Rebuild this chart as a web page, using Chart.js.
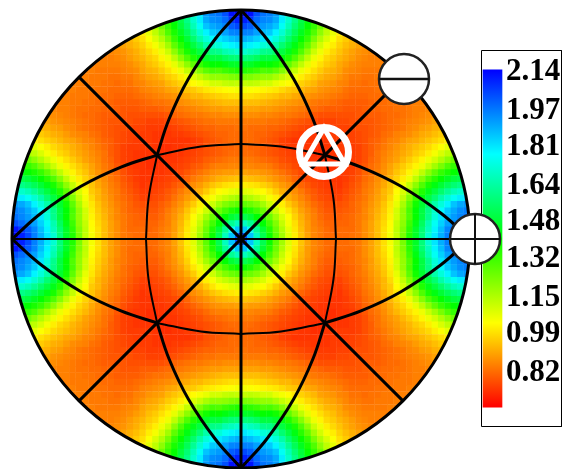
<!DOCTYPE html>
<html lang="en">
<head>
<meta charset="UTF-8">
<title>Pole figure</title>
<style>
  html, body { margin: 0; padding: 0; background: #fff; overflow: hidden; }
  canvas { display: block; }
</style>
</head>
<body>
<canvas id="figure" width="562" height="469"></canvas>
<script src="https://cdn.jsdelivr.net/npm/chart.js@4"></script>
<script>
const cellRows = [
  [203,186,168,152,139,127,117,108,101,95,90,86,84,82,82,82,82,83,84,87,90,94,99,105,112,123,136,146,158,171,181,189,196,204,210,214],
  [176,162,148,136,125,115,107,100,94,89,86,84,82,81,82,82,82,84,87,90,94,99,104,113,122,134,146,157,168,179,187,195,201,207,212],
  [152,141,131,122,112,105,99,93,89,85,83,81,81,81,81,82,84,87,90,94,98,103,112,120,132,143,154,166,176,184,191,195,199,203],
  [134,125,117,109,103,97,92,88,85,82,80,80,80,81,82,84,86,89,93,97,102,110,119,129,140,150,161,172,181,187,192,195,198],
  [118,111,105,100,95,90,87,84,81,79,79,79,80,81,83,86,89,92,96,101,110,119,130,141,150,160,170,178,185,190,194,196],
  [106,101,96,92,88,85,82,80,78,78,78,79,81,83,85,88,91,95,100,107,116,127,138,147,155,165,172,179,186,190,192],
  [97,92,89,86,83,80,78,77,76,76,78,80,82,84,87,90,93,98,105,112,122,133,142,150,157,165,171,176,180,182],
  [90,87,84,81,79,77,76,75,75,77,79,81,84,86,89,93,96,103,109,117,127,136,144,150,156,162,167,170,172],
  [84,81,79,77,76,75,75,74,76,78,80,83,85,88,91,95,100,105,112,120,129,137,143,148,153,157,160,162],
  [78,77,76,75,74,74,74,75,77,79,82,84,87,90,93,97,101,106,113,121,129,135,140,145,149,151,152],
  [76,75,74,74,74,74,75,76,78,81,83,85,88,91,95,98,102,107,113,120,127,133,137,140,143,145],
  [74,74,73,73,74,74,75,77,79,82,84,87,90,93,96,99,102,106,111,117,123,129,133,136],
  [73,73,73,74,74,75,76,78,81,83,86,88,90,93,96,99,102,106,110,115,120,125,128],
  [74,74,74,74,75,76,78,80,83,85,87,89,91,93,96,98,101,105,109,113,116],
  [75,75,75,75,76,78,80,82,84,86,88,90,92,94,96,98,101,104,107,110],
  [75,75,76,77,78,80,81,83,85,86,88,90,91,93,95,97,99,101,102],
  [76,76,77,78,79,80,82,83,85,86,87,89,91,92,94,96,97],
  [77,78,78,79,80,81,82,83,84,86,87,89,90,92,93,95],
  [78,79,79,80,81,82,83,84,85,86,87,88,90,91],
  [79,80,80,81,82,82,83,84,85,86,87,88],
  [81,81,82,82,83,83,84,85,85,86,87],
  [82,82,83,83,84,84,85,85,86],
  [83,83,84,84,84,85,85],
  [84,84,84,85,85,85],
  [84,85,85,85],
  [85,85]
];

const tickLabels = ['2.14', '1.97', '1.81', '1.64', '1.48', '1.32', '1.15', '0.99', '0.82'];
const rampValues = [2.145, 1.775, 1.405, 1.035, 0.665];
const rampColors = ['#0000ff', '#00ffff', '#00ff00', '#ffff00', '#ff0000'];

// great circle through the poles, in disc units
const arcAlong = [0, 40, 84, 120, 160, 200, 229];
const arcAcross = [95, 92.5, 83.9, 71.9, 52.7, 25.8, 0];

const discRadius = 229;
const cellSize = 6.36;

const rgbStops = rampColors.map(c => [1, 3, 5].map(k => parseInt(c.substr(k, 2), 16)));

function colorFor(v) {
  for (let k = 0; k < rampValues.length - 1; k++) {
    if (v >= rampValues[k + 1]) {
      const t = Math.min(1, (v - rampValues[k + 1]) / (rampValues[k] - rampValues[k + 1]));
      const a = rgbStops[k + 1], b = rgbStops[k];
      return 'rgb(' + a.map((c, n) => Math.round(c + (b[n] - c) * t)).join(',') + ')';
    }
  }
  return rampColors[rampColors.length - 1];
}

// unfold the eighth into the whole disc
const cells = [];
const cellColors = [];
function addCell(i, j, v) {
  [-1, 1].forEach(sx => [-1, 1].forEach(sy => {
    cells.push({ x: sx * (i + 0.5) * cellSize, y: sy * (j + 0.5) * cellSize });
    cellColors.push(colorFor(v / 100));
  }));
}
cellRows.forEach((row, j) => row.forEach((v, n) => {
  const i = j + n;
  addCell(i, j, v);
  if (i !== j) addCell(j, i, v);
}));

function lineSet(points, width) {
  return { data: points, showLine: true, pointRadius: 0, borderColor: '#000', borderWidth: width,
           tension: 0, order: 5, clip: false };
}

function arcSet(side, swap, lo, hi, sign) {
  const pts = [];
  for (let k = lo; k <= hi; k++) {
    const p = [side * arcAcross[k], sign * arcAlong[k]];
    pts.push(swap ? { x: p[1], y: p[0] } : { x: p[0], y: p[1] });
  }
  const ds = lineSet(pts, lo === 0 ? 2 : 3);
  ds.tension = 0.4;
  return ds;
}

const datasets = [];

// white symbols
datasets.push({ data: [{ x: 83, y: 87 }], pointStyle: 'triangle', pointRadius: 24, pointBorderWidth: 5,
  pointBorderColor: '#fff', pointBackgroundColor: 'rgba(0,0,0,0)', order: 1, clip: false });
datasets.push({ data: [{ x: 83, y: 87 }], pointStyle: 'circle', pointRadius: 24.5, pointBorderWidth: 7,
  pointBorderColor: '#fff', pointBackgroundColor: 'rgba(0,0,0,0)', order: 1, clip: false });

// plus and minus markers
datasets.push({ data: [{ x: 163, y: 160 }], pointStyle: 'line', pointRadius: 25, pointBorderWidth: 2.5,
  pointBorderColor: '#111', order: 2, clip: false });
datasets.push({ data: [{ x: 234, y: 0 }], pointStyle: 'cross', pointRadius: 25, pointBorderWidth: 2,
  pointBorderColor: '#111', order: 2, clip: false });
datasets.push({ data: [{ x: 163, y: 160 }, { x: 234, y: 0 }], pointStyle: 'circle', pointRadius: 25, pointBorderWidth: 2.5,
  pointBorderColor: '#222', pointBackgroundColor: '#fff', order: 3, clip: false });

// rim
datasets.push({ data: [{ x: 0, y: 0 }], pointStyle: 'circle', pointRadius: discRadius, pointBorderWidth: 3,
  pointBorderColor: '#000', pointBackgroundColor: 'rgba(0,0,0,0)', order: 4, clip: false });

// straight lines through the centre
const diag = discRadius * Math.SQRT1_2;
datasets.push(lineSet([{ x: -discRadius, y: 0 }, { x: discRadius, y: 0 }], 2));
datasets.push(lineSet([{ x: 0, y: -discRadius }, { x: 0, y: discRadius }], 3));
datasets.push(lineSet([{ x: -diag, y: -diag }, { x: diag, y: diag }], 3));
datasets.push(lineSet([{ x: -diag, y: diag }, { x: diag, y: -diag }], 3));

// curved lines, thin in the middle and thick out to the poles
[-1, 1].forEach(side => [false, true].forEach(swap => [-1, 1].forEach(sign => {
  datasets.push(arcSet(side, swap, 0, 2, sign));
  datasets.push(arcSet(side, swap, 2, 6, sign));
})));

// legend frame
datasets.push(lineSet([{ x: 240.5, y: 188.5 }, { x: 320.5, y: 188.5 }, { x: 320.5, y: -187.5 },
  { x: 240.5, y: -187.5 }, { x: 240.5, y: 188.5 }], 1));
datasets[datasets.length - 1].order = 6;

// colour bar
datasets.push({
  type: 'bar',
  data: [{ x: 251.5, y: [rampValues[rampValues.length - 1], rampValues[0]] }],
  yAxisID: 'yv',
  barThickness: 19,
  order: 7,
  clip: false,
  backgroundColor: function (c) {
    const s = c.chart.scales.yv;
    if (!s) return rampColors[2];
    const top = s.getPixelForValue(rampValues[0]);
    const bottom = s.getPixelForValue(rampValues[rampValues.length - 1]);
    if (!isFinite(top) || !isFinite(bottom)) return rampColors[2];
    const g = c.chart.ctx.createLinearGradient(0, top, 0, bottom);
    rampColors.forEach((col, k) => g.addColorStop(k / (rampColors.length - 1), col));
    return g;
  }
});

// heat map
const heatIndex = datasets.length;
datasets.push({ data: cells, pointStyle: 'rect', pointRadius: 4.8, pointBorderWidth: 0,
  pointBackgroundColor: cellColors, order: 10 });

const discClip = {
  id: 'discClip',
  beforeDatasetDraw(chart, args) {
    if (args.index !== heatIndex) return;
    const x = chart.scales.x, y = chart.scales.y;
    chart.ctx.save();
    chart.ctx.beginPath();
    chart.ctx.arc(x.getPixelForValue(0), y.getPixelForValue(0), discRadius, 0, Math.PI * 2);
    chart.ctx.clip();
  },
  afterDatasetDraw(chart, args) {
    if (args.index === heatIndex) chart.ctx.restore();
  }
};

const barLabels = {
  id: 'barLabels',
  afterDatasetsDraw(chart) {
    const ctx = chart.ctx;
    const s = chart.scales.yv;
    ctx.save();
    ctx.fillStyle = '#000';
    ctx.font = 'bold 31px "Liberation Serif"';
    ctx.textBaseline = 'middle';
    ctx.textAlign = 'left';
    tickLabels.forEach(t => {
      ctx.fillText(t, 506, s.getPixelForValue(parseFloat(t)) + 1);
    });
    ctx.restore();
  }
};

new Chart(document.getElementById('figure'), {
  type: 'scatter',
  data: { datasets: datasets },
  plugins: [discClip, barLabels],
  options: {
    responsive: false,
    animation: false,
    events: [],
    layout: { padding: 0, autoPadding: false },
    plugins: { legend: { display: false }, tooltip: { enabled: false } },
    scales: {
      x: { type: 'linear', display: false, min: -241, max: 321, offset: false },
      y: { type: 'linear', display: false, min: -230, max: 239 },
      yv: { type: 'linear', display: false, min: 0.394, max: 2.451 }
    }
  }
});
</script>
</body>
</html>
